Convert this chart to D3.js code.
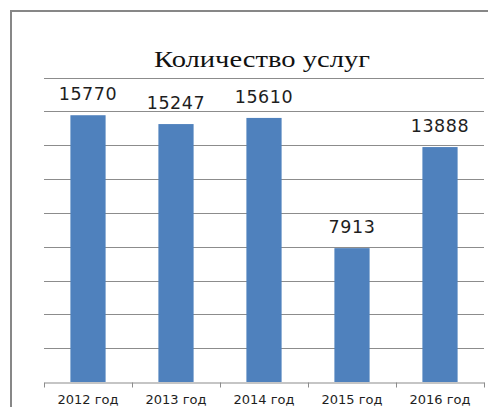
<!DOCTYPE html>
<html>
<head>
<meta charset="utf-8">
<script src="https://cdn.jsdelivr.net/npm/d3@7"></script>
<style>
  html, body { margin: 0; padding: 0; background: #fff; }
  svg { display: block; }
</style>
</head>
<body>
<div id="chart"></div>
<script>
// chart data
var categories = ['2012 год', '2013 год', '2014 год', '2015 год', '2016 год'];
var values = [15770, 15247, 15610, 7913, 13888];
var yTicks = [0, 2000, 4000, 6000, 8000, 10000, 12000, 14000, 16000, 18000];
var title = 'Количество услуг';

var width = 488, height = 407;
var margin = { top: 77.5, left: 44, right: 4, bottom: 25 };

var svg = d3.select('#chart')
    .append('svg')
    .attr('width', width)
    .attr('height', height);

// outer chart frame (cropped on right/bottom)
svg.append('rect')
    .attr('x', 11)
    .attr('y', 11)
    .attr('width', width + 20)
    .attr('height', height + 20)
    .attr('fill', 'none')
    .attr('stroke', '#878787')
    .attr('stroke-width', 2);

var x = d3.scaleBand()
    .domain(categories)
    .range([margin.left, width - margin.right])
    .paddingInner(0.6)
    .paddingOuter(0.3);

var y = d3.scaleLinear()
    .domain([0, 18000])
    .range([height - margin.bottom, margin.top]);

// gridlines
svg.append('g')
    .selectAll('line')
    .data(yTicks.slice(1))
    .enter().append('line')
    .attr('x1', margin.left)
    .attr('x2', width - margin.right)
    .attr('y1', function (d) { return Math.round(y(d)) + 0.5; })
    .attr('y2', function (d) { return Math.round(y(d)) + 0.5; })
    .attr('stroke', '#8c8c8c')
    .attr('stroke-width', 1.2);

// bars
svg.append('g')
    .selectAll('rect')
    .data(values)
    .enter().append('rect')
    .attr('x', function (d, i) { return x(categories[i]); })
    .attr('y', function (d) { return y(d); })
    .attr('width', x.bandwidth())
    .attr('height', function (d) { return y(0) - y(d); })
    .attr('fill', '#4f81bd');

// value labels
svg.append('g')
    .selectAll('text')
    .data(values)
    .enter().append('text')
    .attr('x', function (d, i) { return x(categories[i]) + x.bandwidth() / 2; })
    .attr('y', function (d) { return y(d) - 15; })
    .attr('text-anchor', 'middle')
    .attr('font-family', 'DejaVu Sans, Verdana, sans-serif')
    .attr('font-size', 17.5)
    .attr('letter-spacing', 0.6)
    .attr('fill', '#1e1e1e')
    .text(function (d) { return d; });

// x axis
var xAxis = d3.axisBottom(x).tickSize(0).tickPadding(12);
var gx = svg.append('g')
    .attr('transform', 'translate(0,' + (Math.round(y(0)) + 0.5) + ')')
    .call(xAxis);
gx.select('.domain').attr('stroke', '#8c8c8c').attr('stroke-width', 1.2);
gx.selectAll('text')
    .attr('font-family', 'DejaVu Sans, Verdana, sans-serif')
    .attr('font-size', 13)
    .attr('fill', '#1e1e1e');

// category boundary ticks
var bounds = [margin.left].concat(categories.map(function (c) { return x(c) + x.bandwidth() + x.step() * 0.3; }));
gx.selectAll('.bound')
    .data(bounds)
    .enter().append('line')
    .attr('class', 'bound')
    .attr('x1', function (d) { return Math.round(d) + 0.5; })
    .attr('x2', function (d) { return Math.round(d) + 0.5; })
    .attr('y1', 0)
    .attr('y2', 5)
    .attr('stroke', '#8c8c8c');

// title
svg.append('text')
    .attr('x', (margin.left + width - margin.right) / 2 - 2)
    .attr('y', 67)
    .attr('text-anchor', 'middle')
    .attr('font-family', 'Liberation Serif, Times New Roman, serif')
    .attr('font-size', 24)
    .attr('textLength', 216)
    .attr('lengthAdjust', 'spacingAndGlyphs')
    .attr('fill', '#111')
    .text(title);
</script>
</body>
</html>
